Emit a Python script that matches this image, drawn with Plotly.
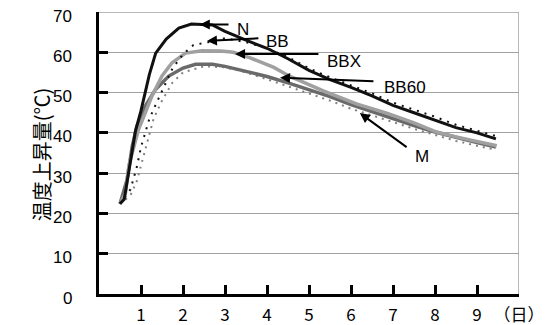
import plotly.graph_objects as go

# ---- data ----
n_days = [0.5, 0.6, 0.75, 0.87, 1.0, 1.1, 1.2, 1.35, 1.6, 1.9, 2.2, 2.7, 3.0, 3.5, 4.0, 4.5, 5.0, 5.5, 6.0, 6.5, 7.0, 7.5, 8.0, 8.5, 9.0, 9.45]
n_temp = [22.4, 23.5, 33.0, 40.5, 45.5, 50.0, 54.5, 59.8, 63.3, 66.0, 67.0, 66.8, 65.2, 63.0, 61.0, 58.4, 55.5, 53.2, 51.3, 49.2, 46.8, 45.0, 43.2, 41.3, 40.0, 38.5]

bb_days = [0.5, 0.75, 0.9, 1.0, 1.1, 1.2, 1.35, 1.5, 1.75, 2.0, 2.25, 2.6, 3.0, 3.5, 4.0, 4.5, 5.0, 5.5, 6.0, 6.5, 7.0, 7.5, 8.0, 8.5, 9.0, 9.45]
bb_temp = [22.4, 26.0, 31.5, 36.5, 40.0, 43.5, 47.0, 50.3, 56.0, 59.5, 61.8, 62.5, 63.5, 62.5, 61.0, 58.8, 56.0, 53.8, 51.8, 49.8, 47.5, 45.7, 44.0, 42.0, 40.6, 39.2]

bbx_days = [0.5, 0.63, 0.71, 0.83, 0.94, 1.1, 1.26, 1.5, 1.74, 2.06, 2.45, 2.9, 3.2, 3.6, 4.15, 4.55, 5.0, 5.34, 6.13, 6.85, 7.5, 8.04, 8.5, 9.0, 9.47]
bbx_temp = [22.4, 25.0, 31.8, 36.7, 40.8, 44.9, 49.1, 54.1, 57.4, 59.8, 60.4, 60.3, 60.0, 58.6, 56.3, 54.0, 52.0, 50.4, 47.2, 44.9, 42.5, 40.2, 39.0, 37.8, 36.8]

bb60_days = [0.5, 0.67, 0.79, 0.9, 1.1, 1.34, 1.66, 2.0, 2.3, 2.7, 3.0, 3.5, 4.0, 4.5, 5.0, 5.5, 6.0, 6.5, 7.0, 7.5, 8.0, 8.5, 9.0, 9.45]
bb60_temp = [22.4, 28.4, 36.6, 41.6, 46.6, 50.7, 54.1, 56.1, 57.0, 57.0, 56.5, 55.2, 54.0, 52.4, 50.8, 49.0, 47.0, 45.2, 43.5, 41.8, 40.2, 38.8, 37.6, 36.5]

m_days = [0.5, 0.75, 0.9, 1.0, 1.1, 1.2, 1.3, 1.5, 1.75, 2.0, 2.5, 3.0, 3.5, 4.0, 4.5, 5.0, 5.5, 6.0, 6.5, 7.0, 7.5, 8.0, 8.5, 9.0, 9.45]
m_temp = [22.4, 24.5, 28.0, 32.0, 36.0, 40.0, 43.5, 48.0, 52.5, 55.0, 56.5, 56.3, 55.0, 53.3, 51.5, 49.8, 48.0, 46.0, 44.3, 42.6, 41.0, 39.5, 38.0, 36.8, 35.8]

x_ticks = [1, 2, 3, 4, 5, 6, 7, 8, 9, 10]
x_tick_text = ["1", "2", "3", "4", "5", "6", "7", "8", "9", "（日）"]
y_ticks = [0, 10, 20, 30, 40, 50, 60, 70]
y_tick_text = ["0", "10", "20", "30", "40", "50", "60", "70"]

# labels: (text, label x, label y, arrow tail x, tail y, tip x, tip y)
labels = ["N", "BB", "BBX", "BB60", "M"]
label_x = [3.42, 4.25, 5.83, 7.29, 7.69]
label_y = [65.7, 62.6, 57.6, 51.2, 34.1]
tail_x = [3.12, 3.83, 5.26, 6.57, 7.36]
tail_y = [66.9, 63.5, 59.6, 52.8, 36.2]
tip_x = [2.40, 2.57, 3.24, 4.31, 6.21]
tip_y = [66.9, 62.8, 59.6, 53.7, 44.9]

fig = go.Figure()
fig.add_trace(go.Scatter(x=m_days, y=m_temp, mode="lines", name="M",
                         line=dict(color="#808080", width=2, dash="2px,5px")))
fig.add_trace(go.Scatter(x=bb60_days, y=bb60_temp, mode="lines", name="BB60",
                         line=dict(color="#6a6a6a", width=3.5)))
fig.add_trace(go.Scatter(x=bbx_days, y=bbx_temp, mode="lines", name="BBX",
                         line=dict(color="#a0a0a0", width=3.5)))
fig.add_trace(go.Scatter(x=bb_days, y=bb_temp, mode="lines", name="BB",
                         line=dict(color="#111111", width=2, dash="2px,6px")))
fig.add_trace(go.Scatter(x=n_days, y=n_temp, mode="lines", name="N",
                         line=dict(color="#111111", width=3)))

annotations = []
for t, lx, ly, ax, ay, tx, ty in zip(labels, label_x, label_y, tail_x, tail_y, tip_x, tip_y):
    annotations.append(dict(x=tx, y=ty, ax=ax, ay=ay, xref="x", yref="y", axref="x", ayref="y",
                            text="", showarrow=True, arrowhead=2, arrowsize=1, arrowwidth=2,
                            arrowcolor="#000000"))
    annotations.append(dict(x=lx, y=ly, xref="x", yref="y", text=t, showarrow=False,
                            font=dict(family="Liberation Sans, Arial, sans-serif", size=17, color="#000000")))

# y tick labels (placed on the y scale, nudged slightly down like the reference)
for v, s in zip(y_ticks, y_tick_text):
    annotations.append(dict(x=0, y=v, xref="paper", yref="y", text=s, showarrow=False,
                            xanchor="right", yanchor="middle", xshift=-25, yshift=-4,
                            font=dict(family="Liberation Sans, Arial, sans-serif", size=17, color="#000000")))

annotations.append(dict(x=0, y=0.494, xref="paper", yref="paper", xshift=-74,
                        text="温度上昇量(℃)", textangle=-90, showarrow=False,
                        font=dict(family="Noto Sans CJK JP", size=20, color="#000000")))

# page body has an 8px margin, so the figure is 8px smaller and margins are offset
fig.update_layout(
    width=547, height=317,
    margin=dict(l=91, r=36, t=4, b=31, autoexpand=False),
    paper_bgcolor="white", plot_bgcolor="white",
    showlegend=False,
    annotations=annotations,
    shapes=[
        dict(type="line", xref="x", yref="y", x0=10, x1=10, y0=0, y1=70,
             line=dict(color="#a0a0a0", width=1.5)),
        dict(type="line", xref="x", yref="y", x0=0, x1=10, y0=70, y1=70,
             line=dict(color="#a0a0a0", width=1.5), layer="below"),
    ],
)
fig.update_xaxes(range=[0, 10], tickvals=x_ticks, ticktext=x_tick_text, automargin=False,
                 ticks="inside", ticklen=9, tickwidth=3, tickcolor="#000000",
                 showline=True, linewidth=3, linecolor="#000000",
                 showgrid=False, zeroline=False, ticklabelstandoff=4,
                 ticklabeloverflow="allow",
                 tickfont=dict(family="Noto Sans CJK JP", size=17, color="#000000"))
fig.update_yaxes(range=[0, 70], tickvals=y_ticks, automargin=False, showticklabels=False,
                 ticks="inside", ticklen=9, tickwidth=3, tickcolor="#000000",
                 showline=True, linewidth=3, linecolor="#000000",
                 showgrid=True, gridcolor="#a0a0a0", gridwidth=1.2, zeroline=False)

fig.write_html("out.html")
